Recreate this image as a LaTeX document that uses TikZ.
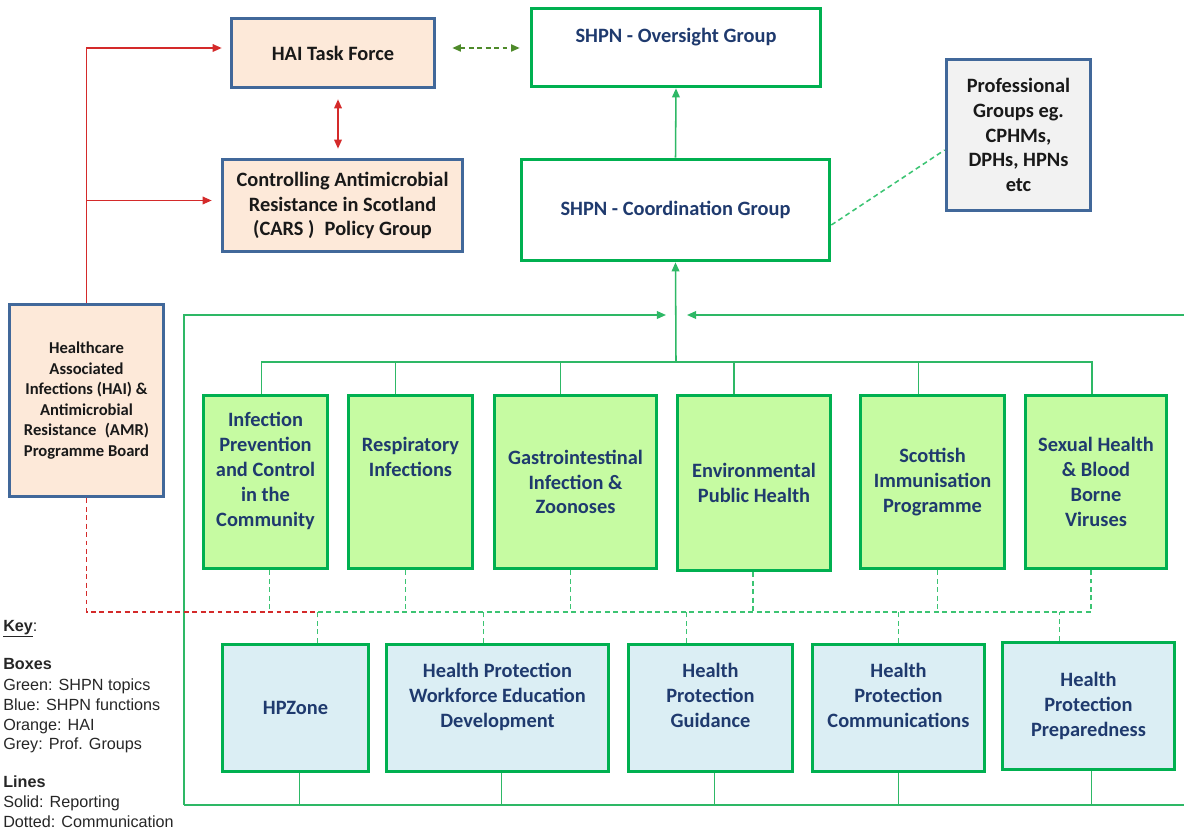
\documentclass[tikz,border=0pt]{standalone}
\usepackage{fontspec}
\setmainfont{Carlito}
\newfontfamily\keyfont{Liberation Sans}
\usetikzlibrary{arrows.meta,calc}

\newdimen\unitpx
\unitpx=0.025cm

\definecolor{haifill}{HTML}{FDE9D9}
\definecolor{haiblue}{HTML}{41689A}
\definecolor{proffill}{HTML}{F2F2F2}
\definecolor{shpngreen}{HTML}{00B050}
\definecolor{topicfill}{HTML}{C6FBA2}
\definecolor{funcfill}{HTML}{DBEEF4}
\definecolor{shpntext}{HTML}{1F3A6E}
\definecolor{repgreen}{HTML}{2EB866}
\definecolor{commgreen}{HTML}{3CC473}
\definecolor{haired}{HTML}{D42A2A}
\definecolor{olive}{HTML}{4E8A2A}

\tikzset{
  boxsize/.style 2 args={minimum width=#1\unitpx, minimum height=#2\unitpx},
  orgbox/.style={draw, line width=2.6pt, align=center, inner sep=0pt,
    font=\bfseries\fontsize{14.5}{17.7}\selectfont},
  haibox/.style={orgbox, draw=haiblue, fill=haifill, text=black!90},
  profbox/.style={orgbox, draw=haiblue, fill=proffill, text=black!90},
  shpnbox/.style={orgbox, draw=shpngreen, fill=white, text=shpntext},
  topicbox/.style={orgbox, draw=shpngreen, fill=topicfill, text=shpntext},
  funcbox/.style={orgbox, draw=shpngreen, fill=funcfill, text=shpntext},
  rep/.style={draw=repgreen, line width=1.1pt},
  comm/.style={draw=commgreen, line width=1.1pt, dash pattern=on 3.5pt off 2.5pt},
  hailink/.style={draw=haired, line width=1pt},
  haicomm/.style={draw=haired, line width=1.1pt, dash pattern=on 3.5pt off 2.5pt},
  tip/.style={-{Triangle[length=6.5pt,width=5.5pt]}},
  keytext/.style={anchor=base west, inner sep=0pt, text=black!85,
    font=\keyfont\fontsize{11.5}{14}\selectfont}
}

\begin{document}
\begin{tikzpicture}[x=0.025cm, y=-0.025cm]
\useasboundingbox (0,0) rectangle (1184,832);

% HAI side
\node[haibox, boxsize={203}{69}] (hai) at (333,53) {HAI Task Force};
\node[haibox, boxsize={240}{92}] (cars) at (342.5,205.5)
  {Controlling Antimicrobial\\Resistance in Scotland\\(CARS )\enspace Policy Group};
\node[haibox, boxsize={154}{192}, font=\bfseries\fontsize{11.8}{14.6}\selectfont] (board) at (86.5,400.5)
  {Healthcare\\Associated\\Infections (HAI) \&\\Antimicrobial\\Resistance\enspace(AMR)\\Programme Board};

% SHPN groups
\node[shpnbox, boxsize={289}{78}] (oversight) at (676,47.5) {SHPN - Oversight Group\\~};
\node[shpnbox, boxsize={308}{101}] (coord) at (675.5,210) {SHPN - Coordination Group};
\node[profbox, boxsize={144}{151}] (prof) at (1018.5,135)
  {Professional\\Groups eg.\\CPHMs,\\DPHs, HPNs\\etc};

% topics
\node[topicbox, boxsize={124}{173}] (t1) at (265.5,482)
  {Infection\\Prevention\\and Control\\in the\\Community\\~};
\node[topicbox, boxsize={124}{173}] (t2) at (410.5,482) {Respiratory\\Infections\\~\\~};
\node[topicbox, boxsize={162}{173}] (t3) at (575.5,482) {Gastrointestinal\\Infection \&\\Zoonoses};
\node[topicbox, boxsize={153}{175}] (t4) at (754,483) {Environmental\\Public Health};
\node[topicbox, boxsize={144}{173}] (t5) at (932.5,482) {Scottish\\Immunisation\\Programme};
\node[topicbox, boxsize={141}{173}] (t6) at (1096,482) {Sexual Health\\\& Blood\\Borne\\Viruses};

% functions
\node[funcbox, boxsize={146}{127}] (f1) at (295.5,708) {HPZone};
\node[funcbox, boxsize={222}{127}] (f2) at (497.5,708)
  {Health Protection\\Workforce Education\\Development\\~};
\node[funcbox, boxsize={164}{127}] (f3) at (710.5,708) {Health\\Protection\\Guidance\\~};
\node[funcbox, boxsize={172}{127}] (f4) at (898.5,708) {Health\\Protection\\Communications\\~};
\node[funcbox, boxsize={172}{127}] (f5) at (1088.5,706) {Health\\Protection\\Preparedness};

% key
\node[keytext] (key) at (3,631) {\underline{\textbf{Key}}:};
\node[keytext] (keyboxes) at (3,669) {\textbf{Boxes}};
\node[keytext] (keygreen) at (3,690) {Green: SHPN topics};
\node[keytext] (keyblue) at (3,710) {Blue: SHPN functions};
\node[keytext] (keyorange) at (3,730) {Orange: HAI};
\node[keytext] (keygrey) at (3,749) {Grey: Prof. Groups};
\node[keytext] (keylines) at (3,787) {\textbf{Lines}};
\node[keytext] (keysolid) at (3,807) {Solid: Reporting};
\node[keytext] (keydotted) at (3,827) {Dotted: Communication};

% HAI reporting
\draw[hailink, tip, shorten >=8\unitpx] (board.north) |- ([yshift=5\unitpx]hai.west);
\draw[hailink, tip, shorten >=9\unitpx] ([yshift=5\unitpx]cars.west -| board.north) -- ([yshift=5\unitpx]cars.west);
\draw[hailink, {Triangle[length=6.5pt,width=5.5pt]}-{Triangle[length=6.5pt,width=5.5pt]},
  shorten <=10\unitpx, shorten >=9\unitpx] ([xshift=5\unitpx]hai.south) -- ([xshift=5\unitpx]hai.south |- cars.north);
\draw[olive, line width=1.1pt, dash pattern=on 3.5pt off 2.5pt,
  {Triangle[length=6pt,width=5pt]}-{Triangle[length=6pt,width=5pt]},
  shorten <=16\unitpx, shorten >=10\unitpx] ([yshift=5\unitpx]hai.east) -- ([yshift=5\unitpx]hai.east -| oversight.west);

% SHPN reporting
\coordinate (topbus) at (676,362);
\coordinate (loopin) at (676,315);
\coordinate (loopend) at (1184,315);
\coordinate (botbus) at (184,805);
\coordinate (botend) at (1184,805);
\draw[rep, tip] (coord.north) -- (oversight.south);
\draw[rep, tip] (topbus) -- (coord.south);
\draw[rep] ([xshift=-4\unitpx]t1.north) |- (topbus) -| ([xshift=-4\unitpx]t6.north);
\foreach \t/\dx in {t2/-15,t3/-15,t4/-20,t5/-14}
  \draw[rep] ([xshift=\dx\unitpx]\t.north) -- ([xshift=\dx\unitpx]\t.north |- topbus);
\draw[rep, tip] (botbus) |- ([xshift=-10\unitpx]loopin);
\draw[rep, tip] (loopend) -- ([xshift=11\unitpx]loopin);
\draw[rep] (botbus) -- (botend);
\foreach \f/\dx in {f1/4,f2/4,f3/4,f4/0,f5/3}
  \draw[rep] ([xshift=\dx\unitpx]\f.south) -- ([xshift=\dx\unitpx]\f.south |- botbus);

% communication
\coordinate (commbus) at (318,612);
\draw[comm] ([yshift=-15\unitpx]coord.east) -- ([yshift=-15\unitpx]prof.west);
\draw[haicomm] (board.south) |- (commbus);
\draw[comm] (commbus) -| ([xshift=-5\unitpx]t6.south);
\foreach \t/\dx in {t1/4,t2/-5,t3/-5,t4/-1,t5/5}
  \draw[comm] ([xshift=\dx\unitpx]\t.south) -- ([xshift=\dx\unitpx]\t.south |- commbus);
\foreach \f/\dx in {f1/22,f2/-14,f3/-24,f4/0,f5/-29}
  \draw[comm] ([xshift=\dx\unitpx]\f.north) -- ([xshift=\dx\unitpx]\f.north |- commbus);
\end{tikzpicture}
\end{document}
